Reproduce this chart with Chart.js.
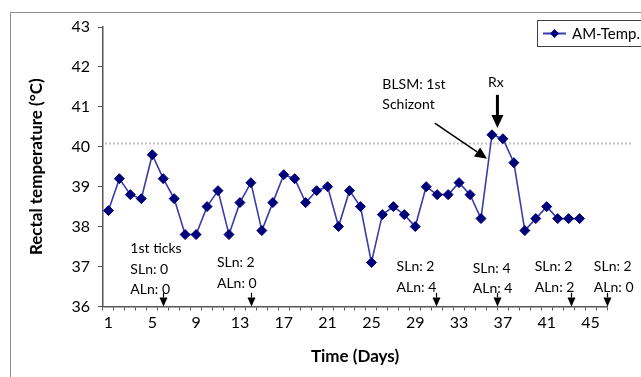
<!DOCTYPE html>
<html>
<head>
<meta charset="utf-8">
<script src="https://cdn.jsdelivr.net/npm/chart.js"></script>
<style>
  html, body { margin: 0; padding: 0; background: #fff; }
  #wrap { width: 641px; height: 377px; }
</style>
</head>
<body>
<div id="wrap"><canvas id="chart" width="641" height="377"></canvas></div>
<script>
// Days on the x axis (46 slots, data for the first 44)
const days = ['1','2','3','4','5','6','7','8','9','10','11','12','13','14','15','16','17','18','19','20','21','22','23',
  '24','25','26','27','28','29','30','31','32','33','34','35','36','37','38','39','40','41','42','43','44','45','46'];

// Morning rectal temperature (°C)
const amTemp = [38.4, 39.2, 38.8, 38.7, 39.8, 39.2, 38.7, 37.8, 37.8, 38.5, 38.9, 37.8, 38.6, 39.1, 37.9,
  38.6, 39.3, 39.2, 38.6, 38.9, 39.0, 38.0, 38.9, 38.5, 37.1, 38.3, 38.5, 38.3, 38.0, 39.0,
  38.8, 38.8, 39.1, 38.8, 38.2, 40.3, 40.2, 39.6, 37.9, 38.2, 38.5, 38.2, 38.2, 38.2];

// y axis ticks
const yTicks = [36, 37, 38, 39, 40, 41, 42, 43];
const feverLine = 40.1;

// tick counts under the axis: day of arrow, day where text starts, lines
const tickNotes = [
  { day: 6.0, textDay: 3.0, lines: ['1st ticks', 'SLn: 0', 'ALn: 0'], top: 37.45 },
  { day: 14.0, textDay: 10.9, lines: ['SLn: 2', 'ALn: 0'], top: 37.1 },
  { day: 30.9, textDay: 27.3, lines: ['SLn: 2', 'ALn: 4'], top: 37.0 },
  { day: 36.45, textDay: 34.25, lines: ['SLn: 4', 'ALn: 4'], top: 36.95 },
  { day: 43.2, textDay: 39.9, lines: ['SLn: 2', 'ALn: 2'], top: 37.0 },
  { day: 46.5, textDay: 45.3, lines: ['SLn: 2', 'ALn: 0'], top: 37.0 }
];

const FONT = 'Lato, "Open Sans", sans-serif';

function arrow(ctx, x1, y1, x2, y2, w, head, hw) {
  const a = Math.atan2(y2 - y1, x2 - x1);
  const bx = x2 - head * Math.cos(a), by = y2 - head * Math.sin(a);
  ctx.beginPath();
  ctx.lineWidth = w;
  ctx.moveTo(x1, y1);
  ctx.lineTo(bx, by);
  ctx.stroke();
  ctx.beginPath();
  ctx.moveTo(x2, y2);
  ctx.lineTo(bx + hw * Math.sin(a), by - hw * Math.cos(a));
  ctx.lineTo(bx - hw * Math.sin(a), by + hw * Math.cos(a));
  ctx.closePath();
  ctx.fill();
}

const extras = {
  id: 'extras',
  beforeDraw(chart) {
    const ctx = chart.ctx;
    ctx.save();
    ctx.strokeStyle = '#8c8c8c';
    ctx.lineWidth = 1;
    ctx.strokeRect(10.5, 12.5, 700, 400);
    ctx.restore();
  },
  beforeDatasetsDraw(chart) {
    const { ctx, chartArea, scales: { x, y } } = chart;
    // dotted fever threshold
    const ty = Math.round(y.getPixelForValue(feverLine)) + 0.5;
    ctx.save();
    ctx.strokeStyle = '#c0c0c0';
    ctx.lineWidth = 2;
    ctx.setLineDash([2, 2]);
    ctx.beginPath();
    ctx.moveTo(chartArea.left + 2, ty);
    ctx.lineTo(chartArea.right + 24, ty);
    ctx.stroke();
    ctx.restore();
  },
  afterDraw(chart) {
    const { ctx, scales: { x, y } } = chart;
    const px = d => x.getPixelForValue(d - 1);
    ctx.save();
    ctx.fillStyle = '#000';
    ctx.strokeStyle = '#000';
    ctx.font = '14px ' + FONT;
    ctx.textBaseline = 'middle';
    ctx.textAlign = 'left';
    tickNotes.forEach(n => {
      const top = y.getPixelForValue(n.top);
      n.lines.forEach((t, i) => ctx.fillText(t, px(n.textDay), top + i * 20.5));
      const ax = Math.round(px(n.day)) + 0.5;
      arrow(ctx, ax, y.getPixelForValue(36.34), ax, y.getPixelForValue(36), 1.2, 9, 4);
    });
    // BLSM note
    ctx.fillText('BLSM: 1st', px(26.0), y.getPixelForValue(41.55));
    ctx.fillText('Schizont', px(26.0), y.getPixelForValue(41.07));
    arrow(ctx, px(30.78), y.getPixelForValue(40.59), px(35.55), y.getPixelForValue(39.7), 1.5, 12, 5.5);
    // Rx
    ctx.textAlign = 'center';
    ctx.fillText('Rx', px(36.35), y.getPixelForValue(41.6));
    arrow(ctx, px(36.5), y.getPixelForValue(41.3), px(36.5), y.getPixelForValue(40.47), 3, 13, 6);

    // legend box
    ctx.strokeStyle = '#404040';
    ctx.lineWidth = 1;
    ctx.strokeRect(537.5, 20.5, 140, 26);
    ctx.strokeStyle = '#3b3ba8';
    ctx.lineWidth = 2;
    ctx.beginPath();
    ctx.moveTo(543, 33.5);
    ctx.lineTo(566, 33.5);
    ctx.stroke();
    ctx.fillStyle = '#00007a';
    ctx.beginPath();
    ctx.moveTo(554.5, 29);
    ctx.lineTo(559, 33.5);
    ctx.lineTo(554.5, 38);
    ctx.lineTo(550, 33.5);
    ctx.closePath();
    ctx.fill();
    ctx.fillStyle = '#000';
    ctx.textAlign = 'left';
    ctx.font = '15px ' + FONT;
    ctx.fillText('AM-Temp.', 572, 34);
    ctx.restore();
  }
};

new Chart(document.getElementById('chart'), {
  type: 'line',
  data: {
    labels: days,
    datasets: [{
      label: 'AM-Temp.',
      data: amTemp,
      borderColor: '#3b3ba8',
      borderWidth: 1.6,
      pointStyle: 'rectRot',
      pointRadius: 5,
      pointBackgroundColor: '#00007a',
      pointBorderColor: '#00007a',
      pointBorderWidth: 1,
      tension: 0
    }]
  },
  options: {
    responsive: false,
    animation: false,
    layout: { padding: { top: 27, right: 34, bottom: 6, left: 22 } },
    plugins: { legend: { display: false }, tooltip: { enabled: false } },
    scales: {
      x: {
        type: 'category',
        offset: true,
        border: { color: '#555', width: 1.5 },
        grid: { display: true, drawOnChartArea: false, offset: true, tickLength: 4, color: '#555' },
        ticks: {
          autoSkip: false,
          maxRotation: 0,
          color: '#000',
          font: { family: FONT, size: 16 },
          padding: 3,
          callback: (v, i) => (i % 4 === 0 ? days[i] : '')
        },
        title: { display: true, text: 'Time (Days)', color: '#000', font: { family: FONT, size: 17, weight: 'bold' }, padding: { top: 11 } }
      },
      y: {
        min: 36,
        max: 43,
        afterBuildTicks: axis => { axis.ticks = yTicks.map(v => ({ value: v })); },
        border: { color: '#555', width: 1.5 },
        grid: { display: true, drawOnChartArea: false, tickLength: 5, color: '#555' },
        ticks: { color: '#000', font: { family: FONT, size: 16 }, padding: 8 },
        title: { display: true, text: 'Rectal temperature (°C)', color: '#000', font: { family: FONT, size: 17, weight: 'bold' }, padding: { bottom: 17 } }
      }
    }
  },
  plugins: [extras]
});
</script>
</body>
</html>
